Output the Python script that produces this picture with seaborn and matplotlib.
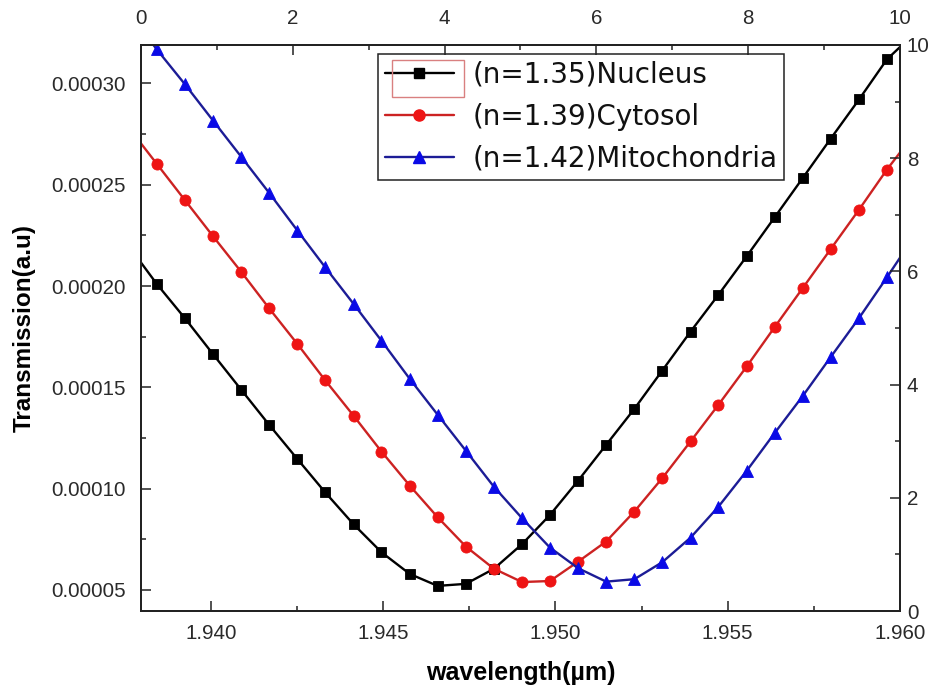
import matplotlib
matplotlib.use("Agg")
import matplotlib.pyplot as plt
import pandas as pd
import seaborn as sns
from matplotlib.ticker import MultipleLocator, FormatStrFormatter
from matplotlib.lines import Line2D
from matplotlib.patches import Rectangle

# ---------------- data ----------------
wavelength = [1.93843, 1.93925, 1.94006, 1.94088, 1.94169, 1.94251, 1.94332,
              1.94414, 1.94495, 1.94577, 1.94658, 1.94740, 1.94821, 1.94903,
              1.94984, 1.95066, 1.95147, 1.95229, 1.95310, 1.95392, 1.95473,
              1.95555, 1.95636, 1.95718, 1.95799, 1.95881, 1.95962]

nucleus = [0.0002010, 0.0001840, 0.0001664, 0.0001488, 0.0001315, 0.0001146,
           0.0000981, 0.0000824, 0.0000686, 0.0000579, 0.0000520, 0.0000530,
           0.0000604, 0.0000726, 0.0000870, 0.0001040, 0.0001216, 0.0001394,
           0.0001583, 0.0001775, 0.0001957, 0.0002147, 0.0002339, 0.0002534,
           0.0002728, 0.0002921, 0.0003119]

cytosol = [0.0002603, 0.0002423, 0.0002246, 0.0002070, 0.0001890, 0.0001714,
           0.0001534, 0.0001360, 0.0001183, 0.0001015, 0.0000859, 0.0000714,
           0.0000605, 0.0000539, 0.0000544, 0.0000640, 0.0000739, 0.0000887,
           0.0001052, 0.0001233, 0.0001414, 0.0001603, 0.0001797, 0.0001991,
           0.0002183, 0.0002377, 0.0002575]

mitochondria = [0.0003168, 0.0002995, 0.0002817, 0.0002638, 0.0002460, 0.0002274,
                0.0002092, 0.0001912, 0.0001730, 0.0001542, 0.0001365, 0.0001187,
                0.0001010, 0.0000854, 0.0000709, 0.0000607, 0.0000541, 0.0000553,
                0.0000637, 0.0000758, 0.0000911, 0.0001088, 0.0001274, 0.0001458,
                0.0001650, 0.0001842, 0.0002043]

# curve values where the lines meet the left / right frame
edge_wavelength = [1.93797, 1.96000]
nucleus_edges = [0.0002116, 0.0003180]
cytosol_edges = [0.0002704, 0.0002659]
mitochondria_edges = [0.0003270, 0.0002140]

series_labels = ["(n=1.35)Nucleus", "(n=1.39)Cytosol", "(n=1.42)Mitochondria"]

x_ticks = [1.940, 1.945, 1.950, 1.955, 1.960]
y_ticks = [0.00005, 0.00010, 0.00015, 0.00020, 0.00025, 0.00030]
top_ticks = [0, 2, 4, 6, 8, 10]
right_ticks = [0, 2, 4, 6, 8, 10]

# ---------------- style ----------------
sns.set_theme(style="ticks")
plt.rcParams["font.family"] = ["Liberation Sans", "DejaVu Sans"]

fig = plt.figure(figsize=(9.38, 6.89), dpi=100)
fig.patch.set_facecolor("white")
ax = fig.add_axes([0.1503, 0.1132, 0.8092, 0.8215])

styles = [
    dict(line="#000000", face="#000000", marker="s", ms=7.4),
    dict(line="#cc2222", face="#ee1414", marker="o", ms=8.0),
    dict(line="#1c1c96", face="#0a0ae6", marker="^", ms=8.8),
]
all_values = [nucleus, cytosol, mitochondria]
all_edges = [nucleus_edges, cytosol_edges, mitochondria_edges]

for vals, edges, st, lab in zip(all_values, all_edges, styles, series_labels):
    xs = [edge_wavelength[0]] + wavelength + [edge_wavelength[1]]
    ys = [edges[0]] + vals + [edges[1]]
    df = pd.DataFrame({"wavelength": xs, "T": ys})
    sns.lineplot(data=df, x="wavelength", y="T", ax=ax, sort=False,
                 estimator=None, color=st["line"], linewidth=1.7,
                 marker=st["marker"], markersize=st["ms"],
                 markerfacecolor=st["face"], markeredgecolor=st["face"],
                 markeredgewidth=0.6,
                 markevery=list(range(1, len(xs) - 1)), legend=False)

ax.set_xlim(1.93797, 1.960)
ax.set_ylim(0.0000396, 0.000319)

tick_color = "#2a2a2a"
ax.set_xticks(x_ticks)
ax.xaxis.set_major_formatter(FormatStrFormatter("%.3f"))
ax.xaxis.set_minor_locator(MultipleLocator(0.0025))
ax.set_yticks(y_ticks)
ax.yaxis.set_major_formatter(FormatStrFormatter("%.5f"))
ax.yaxis.set_minor_locator(MultipleLocator(0.000025))
ax.tick_params(axis="both", which="both", direction="in", width=1.1,
               color="#222222", labelcolor=tick_color, labelsize=14.8)
ax.tick_params(axis="both", which="major", length=7)
ax.tick_params(axis="both", which="minor", length=3.8)
ax.tick_params(axis="x", which="major", pad=9)
ax.tick_params(axis="y", which="major", pad=11)

for sp in ax.spines.values():
    sp.set_linewidth(1.2)
    sp.set_color("#222222")

ax.set_xlabel("wavelength(µm)", fontsize=18, fontweight="bold", color="black")
ax.set_ylabel("Transmission(a.u)", fontsize=17.5, fontweight="bold", color="black")
ax.xaxis.set_label_coords(0.5, -0.088)
ax.yaxis.set_label_coords(-0.138, 0.5)

# secondary (top / right) axes
ax_top = ax.twiny()
ax_top.set_xlim(0, 10)
ax_top.set_xticks(top_ticks)
ax_top.xaxis.set_minor_locator(MultipleLocator(1))
ax_top.tick_params(axis="x", which="both", direction="in", width=1.1,
                   color="#222222", labelcolor=tick_color, labelsize=14.8, pad=12)
ax_top.tick_params(axis="x", which="major", length=7)
ax_top.tick_params(axis="x", which="minor", length=3.8)

ax_right = ax.twinx()
ax_right.set_ylim(0, 10)
ax_right.set_yticks(right_ticks)
ax_right.yaxis.set_minor_locator(MultipleLocator(1))
ax_right.tick_params(axis="y", which="both", direction="in", width=1.1,
                     color="#222222", labelcolor=tick_color, labelsize=14.8, pad=5)
ax_right.tick_params(axis="y", which="major", length=7)
ax_right.tick_params(axis="y", which="minor", length=3.8)
for a in (ax_top, ax_right):
    for sp in a.spines.values():
        sp.set_linewidth(1.2)
        sp.set_color("#222222")

# legend
handles = [Line2D([], [], color=st["line"], lw=1.7, marker=st["marker"],
                  markersize=st["ms"], markerfacecolor=st["face"],
                  markeredgecolor=st["face"]) for st in styles]
leg = ax.legend(handles, series_labels, loc="upper left",
                bbox_to_anchor=(0.312, 0.984), borderaxespad=0,
                prop=dict(family="DejaVu Sans", size=20),
                frameon=True, fancybox=False, framealpha=1,
                edgecolor="#222222", borderpad=0.25, handlelength=2.5,
                handletextpad=0.65, labelspacing=0.5)
leg.get_frame().set_linewidth(1.1)
leg.set_zorder(5)
for t in leg.get_texts():
    t.set_color("#111111")

# small selection box around the first legend key (as in the reference)
ax.add_patch(Rectangle((0.3307, 0.908), 0.0949, 0.0655, transform=ax.transAxes,
                       fill=False, edgecolor="#d98080", lw=1.0, zorder=6,
                       clip_on=False))

fig.savefig("out.png", dpi=100, facecolor="white")
